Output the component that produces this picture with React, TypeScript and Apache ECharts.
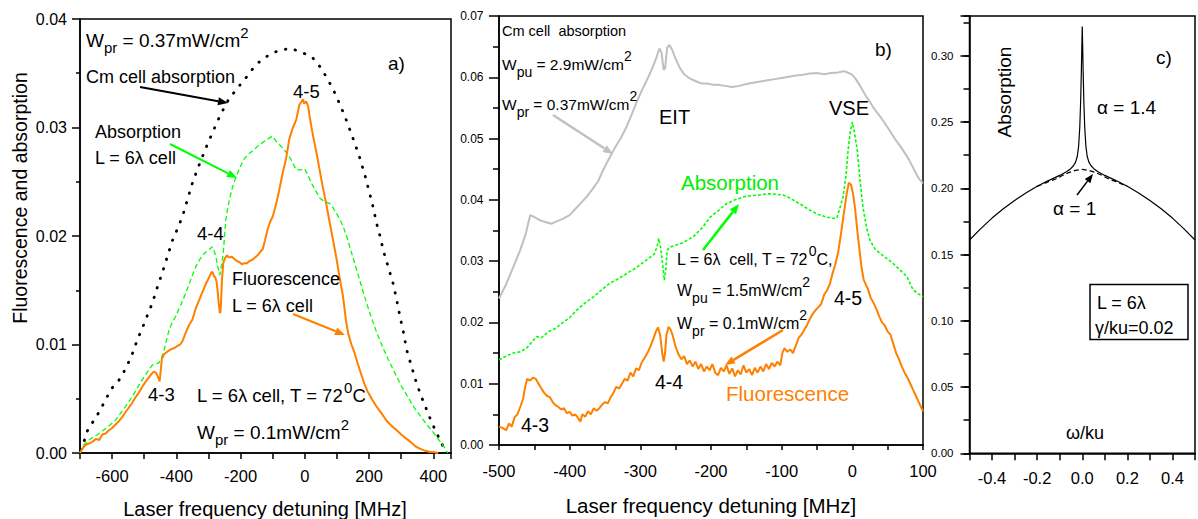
import React, { useEffect, useRef } from 'react';
import * as echarts from 'echarts';

const FONT = "'Liberation Sans', Arial, Helvetica, sans-serif";

// ---------- Panel a) data: [detuning MHz, value] ----------
const aCmCell: [number, number][] = [
  [-698, 0.0003], [-690, 0.0008], [-678, 0.002], [-657, 0.003], [-636, 0.004], [-621, 0.0049], [-600, 0.006],
  [-579, 0.0067], [-563, 0.0075], [-548, 0.0084], [-535, 0.0093], [-522, 0.0104], [-506, 0.0115], [-490, 0.0127],
  [-475, 0.0138], [-460, 0.0152], [-444, 0.0166], [-428, 0.0181], [-412, 0.0196], [-396, 0.0207], [-381, 0.0218],
  [-365, 0.0234], [-350, 0.0249], [-335, 0.0261], [-319, 0.0273], [-304, 0.0284], [-288, 0.0295], [-264, 0.0311],
  [-239, 0.0325], [-211, 0.0336], [-183, 0.0346], [-160, 0.0355], [-140, 0.0361], [-121, 0.0365], [-100, 0.0369],
  [-75, 0.0371], [-48, 0.0373], [-25, 0.0371], [0, 0.0368], [25, 0.0364], [50, 0.0355], [72, 0.0344], [90, 0.0334],
  [108, 0.0322], [125, 0.031], [140, 0.0298], [156, 0.0285], [171, 0.0272], [187, 0.0256], [202, 0.0239],
  [213, 0.0226], [223, 0.0212], [234, 0.02], [244, 0.0187], [260, 0.0171], [275, 0.0156], [286, 0.0141],
  [296, 0.0126], [307, 0.0111], [317, 0.0095], [333, 0.0079], [348, 0.0064], [364, 0.0051], [379, 0.004],
  [395, 0.0028], [411, 0.0018], [425, 0.0009], [437, 0.0003], [445, 0.0],
];

const aAbsorption: [number, number][] = [
  [-700, 0.0], [-690, 0.0007], [-680, 0.001], [-663, 0.0014], [-645, 0.0017], [-631, 0.002], [-610, 0.0025],
  [-590, 0.003], [-575, 0.0036], [-558, 0.0043], [-542, 0.005], [-527, 0.0057], [-512, 0.0065], [-496, 0.0072],
  [-485, 0.0077], [-475, 0.0081], [-465, 0.0082], [-454, 0.0083], [-446, 0.0088], [-438, 0.0095], [-430, 0.0105],
  [-423, 0.0113], [-415, 0.0119], [-402, 0.0126], [-387, 0.0136], [-371, 0.0147], [-355, 0.016], [-339, 0.0172],
  [-326, 0.0179], [-313, 0.0184], [-300, 0.0187], [-288, 0.019], [-282, 0.0186], [-277, 0.0181], [-271, 0.0172],
  [-265, 0.0164], [-260, 0.0172], [-254, 0.0184], [-250, 0.02], [-246, 0.0215], [-240, 0.0226], [-235, 0.0233],
  [-228, 0.0242], [-220, 0.025], [-212, 0.0256], [-204, 0.0262], [-191, 0.027], [-178, 0.0275], [-160, 0.0279],
  [-142, 0.0284], [-122, 0.0288], [-102, 0.0292], [-85, 0.0286], [-69, 0.0281], [-58, 0.0277], [-48, 0.0273],
  [-37, 0.0267], [-27, 0.0261], [-14, 0.0261], [-1, 0.0262], [10, 0.0256], [20, 0.0249], [33, 0.0242],
  [46, 0.0235], [60, 0.0232], [77, 0.023], [88, 0.0226], [98, 0.0221], [108, 0.0216], [119, 0.0209],
  [130, 0.02], [140, 0.019], [160, 0.017], [180, 0.015], [200, 0.0131], [220, 0.0114], [240, 0.0099],
  [260, 0.0086], [280, 0.0074], [300, 0.0062], [320, 0.0052], [340, 0.0042], [360, 0.0034], [380, 0.0026],
  [400, 0.0019], [420, 0.0011], [435, 0.0005], [445, 0.0],
];

const aFluorescence: [number, number][] = [
  [-700, 0.0], [-690, 0.0005], [-680, 0.0008], [-670, 0.0009], [-663, 0.001], [-650, 0.0013], [-640, 0.0012],
  [-631, 0.0017], [-620, 0.0018], [-610, 0.0021], [-600, 0.0023], [-590, 0.0026], [-580, 0.0029], [-569, 0.0033],
  [-560, 0.0037], [-550, 0.0041], [-538, 0.0046], [-528, 0.0051], [-518, 0.0055], [-506, 0.0061], [-495, 0.0066],
  [-485, 0.007], [-477, 0.0073], [-470, 0.0075], [-464, 0.0074], [-460, 0.0072], [-456, 0.0069], [-452, 0.0066],
  [-448, 0.0078], [-445, 0.0087], [-438, 0.0091], [-430, 0.0093], [-420, 0.0095], [-413, 0.0096], [-405, 0.0097],
  [-395, 0.0099], [-388, 0.01], [-381, 0.0103], [-372, 0.011], [-362, 0.0117], [-350, 0.0123], [-340, 0.0133],
  [-329, 0.0141], [-318, 0.0149], [-308, 0.0156], [-298, 0.0162], [-292, 0.0166], [-288, 0.0167], [-283, 0.0163],
  [-279, 0.0162], [-275, 0.0158], [-271, 0.0148], [-268, 0.0138], [-265, 0.013], [-263, 0.0129], [-261, 0.0138],
  [-258, 0.016], [-254, 0.0175], [-248, 0.018], [-242, 0.0182], [-236, 0.018], [-228, 0.0181], [-220, 0.0179],
  [-212, 0.0177], [-204, 0.0176], [-196, 0.0174], [-188, 0.0175], [-180, 0.0175], [-172, 0.0177], [-164, 0.0178],
  [-156, 0.018], [-148, 0.0182], [-140, 0.0185], [-131, 0.0188], [-124, 0.0196], [-116, 0.0206], [-108, 0.0213],
  [-100, 0.0218], [-89, 0.023], [-80, 0.0242], [-69, 0.0258], [-58, 0.0272], [-48, 0.029], [-37, 0.03],
  [-27, 0.0307], [-17, 0.0321], [-10, 0.0324], [-6, 0.0326], [-2, 0.0322], [4, 0.0324], [10, 0.032],
  [15, 0.031], [25, 0.0293], [36, 0.0277], [46, 0.0261], [56, 0.0245], [67, 0.0229], [77, 0.0213],
  [88, 0.0196], [98, 0.018], [108, 0.0162], [119, 0.0144], [128, 0.0122], [135, 0.011], [145, 0.01],
  [155, 0.0092], [165, 0.0082], [175, 0.0073], [185, 0.0064], [195, 0.0057], [210, 0.0049], [225, 0.0042],
  [240, 0.0036], [254, 0.003], [270, 0.0025], [286, 0.0021], [300, 0.0017], [317, 0.0013], [330, 0.001],
  [345, 0.0006], [358, 0.0004], [375, 0.0002], [390, 0.0001], [400, 0.0001], [415, 0.0],
];

// ---------- Panel b) data ----------
const bCmCell: [number, number][] = [
  [-500, 0.0239], [-490, 0.0262], [-480, 0.029], [-470, 0.0318], [-462, 0.0345], [-456, 0.0375], [-450, 0.0372],
  [-444, 0.0368], [-438, 0.0365], [-432, 0.0363], [-426, 0.0361], [-420, 0.0364], [-414, 0.0367], [-408, 0.037],
  [-400, 0.0375], [-392, 0.0385], [-384, 0.0395], [-376, 0.0405], [-368, 0.0417], [-360, 0.043], [-352, 0.045],
  [-344, 0.0468], [-336, 0.0485], [-328, 0.05], [-320, 0.0518], [-312, 0.054], [-304, 0.0563], [-296, 0.0583],
  [-288, 0.0602], [-282, 0.0618], [-277, 0.0633], [-273, 0.0647], [-270, 0.064], [-267, 0.0612], [-265, 0.0615],
  [-262, 0.0648], [-259, 0.0653], [-255, 0.0645], [-250, 0.063], [-244, 0.0615], [-238, 0.0605], [-230, 0.0598],
  [-222, 0.0594], [-214, 0.059], [-206, 0.059], [-198, 0.0588], [-190, 0.0588], [-180, 0.0586], [-170, 0.0584],
  [-160, 0.0586], [-150, 0.0589], [-140, 0.0591], [-130, 0.0593], [-120, 0.0595], [-110, 0.0597], [-100, 0.0599],
  [-90, 0.0601], [-80, 0.0603], [-70, 0.0604], [-60, 0.0606], [-50, 0.0607], [-40, 0.0605], [-30, 0.0607],
  [-20, 0.0608], [-12, 0.061], [-5, 0.0607], [0, 0.0604], [5, 0.0597], [10, 0.0588], [15, 0.0578], [20, 0.0568],
  [25, 0.056], [30, 0.055], [40, 0.0535], [50, 0.0518], [60, 0.05], [70, 0.0484], [80, 0.0466], [88, 0.0448],
  [94, 0.0435], [100, 0.0427],
];

const bAbsorption: [number, number][] = [
  [-500, 0.0139], [-490, 0.0145], [-480, 0.015], [-470, 0.0152], [-461, 0.0158], [-452, 0.017], [-447, 0.0177],
  [-440, 0.0175], [-430, 0.0185], [-420, 0.019], [-414, 0.0196], [-400, 0.0208], [-390, 0.022], [-378, 0.0232],
  [-366, 0.0242], [-354, 0.0254], [-343, 0.0264], [-330, 0.0272], [-319, 0.028], [-305, 0.029], [-291, 0.0302],
  [-280, 0.0312], [-276, 0.0325], [-274, 0.0337], [-271, 0.032], [-268, 0.029], [-266, 0.0269], [-264, 0.0285],
  [-262, 0.0318], [-258, 0.0323], [-250, 0.0326], [-240, 0.033], [-225, 0.034], [-212, 0.0355], [-201, 0.0372],
  [-190, 0.0382], [-178, 0.0394], [-166, 0.04], [-154, 0.0405], [-142, 0.0407], [-131, 0.0408], [-118, 0.041],
  [-108, 0.0409], [-98, 0.0408], [-90, 0.0404], [-84, 0.04], [-72, 0.0392], [-60, 0.0383], [-48, 0.0376],
  [-37, 0.0372], [-28, 0.037], [-22, 0.037], [-18, 0.0385], [-13, 0.0405], [-9, 0.044], [-6, 0.0481],
  [-3, 0.051], [0, 0.0527], [3, 0.051], [7, 0.0481], [11, 0.043], [15, 0.0389], [20, 0.0355], [25, 0.0334],
  [32, 0.032], [39, 0.0313], [48, 0.0305], [58, 0.0296], [68, 0.0285], [77, 0.0275], [86, 0.0253], [93, 0.0247],
  [100, 0.0242],
];

const bFluorescence: [number, number][] = [
  [-500, 0.003], [-495, 0.0028], [-490, 0.0024], [-486, 0.0035], [-482, 0.003], [-478, 0.0045], [-474, 0.005],
  [-470, 0.0062], [-466, 0.0075], [-463, 0.0095], [-460, 0.0108], [-456, 0.0105], [-452, 0.011], [-448, 0.0108],
  [-444, 0.01], [-440, 0.0092], [-436, 0.0085], [-432, 0.008], [-428, 0.0078], [-424, 0.007], [-420, 0.0065],
  [-416, 0.0062], [-412, 0.0058], [-408, 0.006], [-404, 0.0052], [-400, 0.0054], [-396, 0.0048], [-392, 0.005],
  [-388, 0.0044], [-385, 0.0038], [-382, 0.005], [-378, 0.0046], [-374, 0.0055], [-370, 0.005], [-366, 0.006],
  [-362, 0.0056], [-358, 0.006], [-354, 0.0066], [-350, 0.007], [-346, 0.0068], [-342, 0.0078], [-338, 0.0085],
  [-334, 0.0095], [-330, 0.0092], [-326, 0.01], [-322, 0.0108], [-318, 0.0105], [-314, 0.0118], [-310, 0.0112],
  [-306, 0.0125], [-302, 0.0122], [-298, 0.0135], [-294, 0.0142], [-290, 0.015], [-286, 0.016], [-282, 0.0172],
  [-278, 0.0185], [-275, 0.0192], [-272, 0.018], [-269, 0.015], [-267, 0.0136], [-265, 0.015], [-263, 0.018],
  [-260, 0.0193], [-257, 0.0188], [-254, 0.0178], [-250, 0.016], [-246, 0.0148], [-242, 0.014], [-238, 0.0145],
  [-234, 0.0132], [-230, 0.0138], [-226, 0.0128], [-222, 0.0136], [-218, 0.0124], [-214, 0.0132], [-210, 0.012],
  [-206, 0.0128], [-202, 0.0122], [-198, 0.0132], [-194, 0.0118], [-190, 0.0114], [-186, 0.0126], [-182, 0.012],
  [-178, 0.013], [-174, 0.0116], [-170, 0.0125], [-166, 0.0112], [-162, 0.0122], [-158, 0.0115], [-154, 0.013],
  [-150, 0.0118], [-146, 0.0124], [-142, 0.0114], [-138, 0.0126], [-134, 0.0118], [-130, 0.0128], [-126, 0.012],
  [-122, 0.0132], [-118, 0.0124], [-114, 0.0134], [-110, 0.0128], [-106, 0.0136], [-102, 0.013], [-99, 0.015],
  [-96, 0.0158], [-92, 0.0152], [-88, 0.0156], [-84, 0.015], [-80, 0.0162], [-76, 0.0175], [-72, 0.018],
  [-68, 0.0188], [-64, 0.0196], [-60, 0.0206], [-56, 0.0214], [-52, 0.022], [-48, 0.0225], [-44, 0.023],
  [-40, 0.0245], [-36, 0.0252], [-32, 0.0262], [-28, 0.028], [-24, 0.0295], [-20, 0.0315], [-16, 0.0345],
  [-12, 0.0378], [-8, 0.041], [-5, 0.0428], [-2, 0.0425], [1, 0.041], [4, 0.0385], [7, 0.035], [10, 0.032],
  [13, 0.029], [16, 0.027], [19, 0.0262], [22, 0.0255], [26, 0.024], [30, 0.0232], [34, 0.0222], [38, 0.021],
  [42, 0.02], [46, 0.0195], [50, 0.0185], [54, 0.018], [58, 0.0165], [62, 0.015], [66, 0.014], [70, 0.0128],
  [74, 0.0118], [78, 0.011], [82, 0.01], [86, 0.009], [90, 0.008], [94, 0.007], [98, 0.006], [100, 0.0055],
];

// ---------- Panel c) data: [omega/ku, absorption] ----------
const cAlpha14: [number, number][] = [
  [-0.5, 0.161], [-0.45, 0.1695], [-0.4, 0.1775], [-0.35, 0.1845], [-0.3, 0.1908], [-0.25, 0.1965],
  [-0.2, 0.2015], [-0.15, 0.2058], [-0.1, 0.2097], [-0.07, 0.2125], [-0.05, 0.215], [-0.04, 0.2168],
  [-0.03, 0.2195], [-0.022, 0.224], [-0.016, 0.232], [-0.011, 0.246], [-0.007, 0.266], [-0.004, 0.288],
  [-0.002, 0.306], [0, 0.322], [0.002, 0.306], [0.004, 0.288], [0.007, 0.266], [0.011, 0.246],
  [0.016, 0.232], [0.022, 0.224], [0.03, 0.2195], [0.04, 0.2168], [0.05, 0.215], [0.07, 0.2125],
  [0.1, 0.2097], [0.15, 0.2058], [0.2, 0.2015], [0.25, 0.1965], [0.3, 0.1908], [0.35, 0.1845],
  [0.4, 0.1775], [0.45, 0.1695], [0.5, 0.161],
];
const cAlpha1: [number, number][] = [
  [-0.2, 0.2013], [-0.15, 0.205], [-0.12, 0.2068], [-0.09, 0.2095], [-0.06, 0.2118], [-0.03, 0.2135],
  [0, 0.2142], [0.03, 0.2135], [0.06, 0.2118], [0.09, 0.2095], [0.12, 0.2068], [0.15, 0.205], [0.2, 0.2013],
];

// tick label sets
const aXLabels = [-600, -400, -200, 0, 200, 400];
const bXLabels = [-500, -400, -300, -200, -100, 0, 100];
const cXLabels = [-0.4, -0.2, 0.0, 0.2, 0.4];

const ORANGE = '#ff8000';
const GREEN = '#00ee00';
const GRAY = '#c0c0c0';

function txt(x: number, y: number, text: string, size: number, color = '#000', rich?: any, extra: any = {}) {
  return {
    type: 'text', x, y, silent: true, z: 100,
    ...extra,
    style: {
      text, fontSize: size, fontFamily: FONT, fill: color,
      align: extra.center ? 'center' : 'left', verticalAlign: 'middle',
      textAlign: extra.center ? 'center' : 'left', textVerticalAlign: 'middle',
      rich,
    },
  };
}

function richSet(main: number, sub: number, subOff: number, supOff: number, supOff2 = supOff) {
  const L = 30;
  return {
    m: { fontSize: main, fontFamily: FONT, lineHeight: L },
    s: { fontSize: sub, fontFamily: FONT, lineHeight: L - 2 * subOff, verticalAlign: 'bottom' },
    p: { fontSize: sub, fontFamily: FONT, lineHeight: L - 2 * supOff, verticalAlign: 'top' },
    q: { fontSize: sub, fontFamily: FONT, lineHeight: L - 2 * supOff2, verticalAlign: 'top' },
  };
}

function arrow(x1: number, y1: number, x2: number, y2: number, color: string, w = 2, head = 10, hw = 4) {
  const ang = Math.atan2(y2 - y1, x2 - x1);
  const bx = x2 - head * Math.cos(ang);
  const by = y2 - head * Math.sin(ang);
  const px = -Math.sin(ang) * hw;
  const py = Math.cos(ang) * hw;
  return [
    { type: 'line', silent: true, z: 100, shape: { x1, y1, x2: bx, y2: by }, style: { stroke: color, lineWidth: w } },
    { type: 'polygon', silent: true, z: 100, shape: { points: [[x2, y2], [bx + px, by + py], [bx - px, by - py]] }, style: { fill: color } },
  ];
}

const axLine = { show: true, onZero: false, lineStyle: { color: '#000', width: 1.5 } };

function xAxis(gridIndex: number, min: number, max: number, interval: number, labels: number[], digits: number, margin: number, tickLen: number) {
  return {
    type: 'value', gridIndex, min, max, interval,
    axisLine: axLine,
    axisTick: { show: true, length: tickLen, lineStyle: { color: '#000', width: 1.5 } },
    axisLabel: {
      fontSize: 16.5, color: '#000', fontFamily: FONT, margin, hideOverlap: false,
      formatter: (v: number) => {
        const hit = labels.find((l) => Math.abs(l - v) < 1e-9);
        return hit === undefined ? '' : hit.toFixed(digits);
      },
    },
    splitLine: { show: false },
  };
}

function yAxis(gridIndex: number, max: number, interval: number, fontSize: number, margin: number, tickLen: number, minorLen: number, minor = true) {
  return {
    type: 'value', gridIndex, min: 0, max, interval,
    axisLine: axLine,
    axisTick: { show: true, length: tickLen, lineStyle: { color: '#000', width: 1.5 } },
    minorTick: { show: minor, splitNumber: 2, length: minorLen, lineStyle: { color: '#000', width: 1.5 } },
    axisLabel: {
      fontSize, color: '#000', fontFamily: FONT, margin, hideOverlap: false,
      formatter: (v: number) => {
        const k = Math.round(v / interval);
        return Math.abs(v - k * interval) < 1e-9 ? v.toFixed(2) : '';
      },
    },
    splitLine: { show: false },
  };
}

function line(name: string, data: [number, number][], idx: number, color: string, width: number, type: any, z: number, cap = 'butt') {
  return {
    name, type: 'line', data, xAxisIndex: idx, yAxisIndex: idx, showSymbol: false, symbol: 'none',
    lineStyle: { color, width, type, cap }, z, animation: false, silent: true,
  };
}

function buildOption() {
  const rA = richSet(19, 15, 5, 8);
  const rA2 = richSet(18.5, 15, 5, 8);
  const rB = richSet(15.5, 14, 7, 8.5);
  const rB2 = richSet(16, 14, 7, 8.5, 12);

  const graphics: any[] = [
    // axis titles
    txt(265, 509, 'Laser frequency detuning [MHz]', 20, '#000', undefined, { center: true }),
    txt(711, 505, 'Laser frequency detuning [MHz]', 20.5, '#000', undefined, { center: true }),
    txt(20, 198, 'Fluorescence and absorption', 19.5, '#000', undefined, { center: true, rotation: Math.PI / 2 }),
    // panel a
    txt(86, 40, '{m|W}{s|pr}{m| = 0.37mW/cm}{p|2}', 19, '#000', rA),
    txt(388, 63, 'a)', 19),
    txt(86, 77, 'Cm cell absorption', 18),
    txt(293, 91, '4-5', 18.5),
    txt(95, 132, 'Absorption', 18),
    txt(95, 158, 'L = 6λ cell', 18),
    txt(197, 233, '4-4', 18.5),
    txt(232, 279, 'Fluorescence', 18),
    txt(232, 306, 'L = 6λ cell', 18),
    txt(148, 394, '4-3', 18.5),
    txt(197, 395, '{m|L = 6λ cell, T = 72}{p|0}{m|C}', 18.5, '#000', rA2),
    txt(197, 432, '{m|W}{s|pr}{m| = 0.1mW/cm}{p|2}', 19, '#000', rA),
    ...arrow(140, 87, 228, 103, '#000', 2),
    ...arrow(170, 144, 237, 178, '#00ff00', 2),
    ...arrow(293, 314, 345, 335, ORANGE, 2),
    // panel b
    txt(502, 31, 'Cm cell \u00a0absorption', 14.5),
    txt(502, 64, '{m|W}{s|pu}{m| = 2.9mW/cm}{p|2}', 15.5, '#000', rB),
    txt(502, 104, '{m|W}{s|pr}{m| = 0.37mW/cm}{p|2}', 15.5, '#000', rB),
    txt(659, 117, 'EIT', 20),
    txt(829, 108, 'VSE', 20),
    txt(875, 49, 'b)', 19),
    txt(681, 182, 'Absorption', 20.5, GREEN),
    txt(677, 259, '{m|L = 6λ \u00a0cell, T = 72}{q|0}{m|C,}', 16, '#000', rB2),
    txt(677, 290, '{m|W}{s|pu}{m| = 1.5mW/cm}{p|2}', 16, '#000', rB2),
    txt(677, 323, '{m|W}{s|pr}{m| = 0.1mW/cm}{p|2}', 16, '#000', rB2),
    txt(655, 382, '4-4', 19.5),
    txt(726, 393, 'Fluorescence', 20.5, ORANGE),
    txt(834, 298, '4-5', 19.5),
    txt(521, 425, '4-3', 19.5),
    ...arrow(553, 115, 613, 154, GRAY, 2.5),
    ...arrow(703, 250, 739, 204, '#00ff00', 2.5),
    ...arrow(783, 330, 725, 365, ORANGE, 2.5),
    // panel c
    txt(1004, 92, 'Absorption', 19, '#000', undefined, { center: true, rotation: Math.PI / 2 }),
    txt(1156, 57, 'c)', 19),
    txt(1097, 107, 'α = 1.4', 19),
    txt(1053, 208, 'α = 1', 19),
    ...arrow(1077, 195, 1093, 174, '#000', 1.5, 9, 3.5),
    { type: 'rect', silent: true, z: 100, shape: { x: 1090, y: 284.5, width: 98, height: 55 }, style: { fill: 'none', stroke: '#000', lineWidth: 1.5 } },
    txt(1097, 303, 'L = 6λ', 18),
    txt(1095, 328, 'γ/ku=0.02', 18),
    txt(1066, 433, 'ω/ku', 18),
  ];

  const gridStyle = { show: true, borderColor: '#000', borderWidth: 1.5, backgroundColor: 'transparent', containLabel: false };

  return {
    animation: false,
    backgroundColor: '#fff',
    grid: [
      { ...gridStyle, left: 80, top: 19, width: 371, height: 434 },
      { ...gridStyle, left: 499, top: 16, width: 424, height: 429 },
      { ...gridStyle, left: 969.5, top: 16, width: 230, height: 437.3 },
    ],
    xAxis: [
      xAxis(0, -700, 455, 100, aXLabels, 0, 14, 6),
      xAxis(1, -500, 100, 50, bXLabels, 0, 17, 5),
      xAxis(2, -0.5, 0.5, 0.1, cXLabels, 1, 16, 7),
    ],
    yAxis: [
      yAxis(0, 0.04, 0.01, 16, 13, 8, 4),
      yAxis(1, 0.07, 0.01, 12, 15.5, 10, 6),
      yAxis(2, 0.33, 0.05, 11.5, 16, 9, 6, false),
      {
        type: 'value', gridIndex: 2, min: 0, max: 0.33, interval: 0.025, position: 'left', offset: 0,
        axisLine: { show: false, onZero: false },
        axisTick: { show: true, length: 6, lineStyle: { color: '#000', width: 1.5 } },
        axisLabel: { show: false }, splitLine: { show: false },
      },
    ],
    series: [
      line('Cm cell absorption', aCmCell, 0, '#000', 2.8, [0.5, 9.5], 2, 'round'),
      line('Absorption L=6λ', aAbsorption, 0, '#00ff00', 1.3, [5, 3], 3),
      line('Fluorescence L=6λ', aFluorescence, 0, ORANGE, 2, 'solid', 4),
      line('Cm cell absorption b', bCmCell, 1, GRAY, 2, 'solid', 2),
      line('Absorption b', bAbsorption, 1, '#00ff00', 1.6, [3, 2], 3),
      line('Fluorescence b', bFluorescence, 1, ORANGE, 2, 'solid', 4),
      line('alpha 1.4', cAlpha14, 2, '#000', 1.2, 'solid', 3),
      line('alpha 1', cAlpha1, 2, '#000', 1.2, [5, 3], 2),
    ],
    graphic: graphics,
  };
}

export default function App() {
  const ref = useRef<HTMLDivElement>(null);
  useEffect(() => {
    if (!ref.current) return;
    const chart = echarts.init(ref.current, null, { renderer: 'svg' });
    chart.setOption(buildOption() as any);
    return () => chart.dispose();
  }, []);
  return (
    <div
      ref={ref}
      style={{ position: 'absolute', left: 0, top: 0, width: 1198, height: 519, background: '#fff' }}
    />
  );
}
